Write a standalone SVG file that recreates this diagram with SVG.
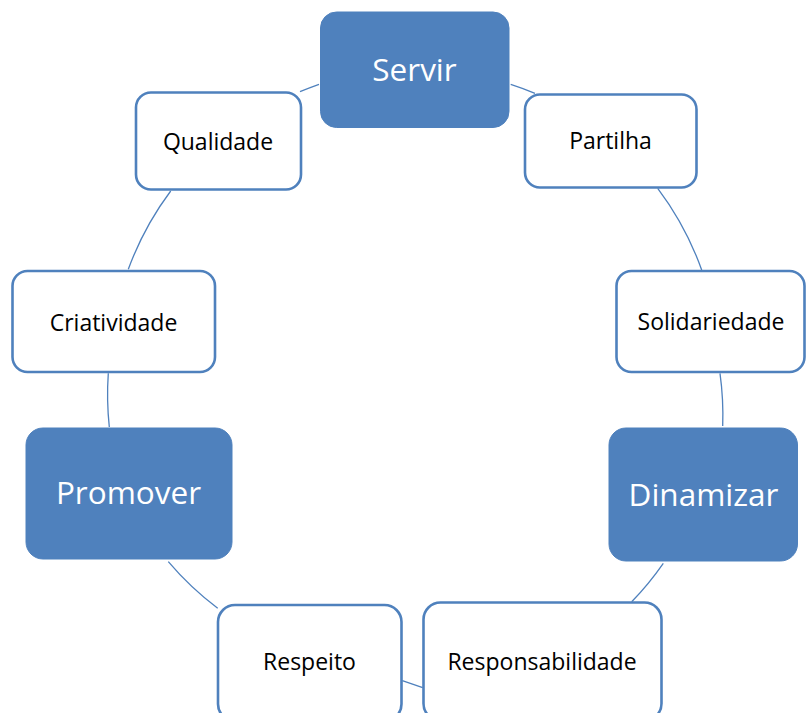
<svg xmlns="http://www.w3.org/2000/svg" width="806" height="713" viewBox="0 0 806 713">
<style>
.main rect{fill:#4f81bd;stroke:#4f81bd;stroke-width:1}
.sub rect{fill:#ffffff;stroke:#4f81bd;stroke-width:2.6}
.main text{font-family:"Open Sans","Noto Sans",sans-serif;font-size:31.5px;fill:#ffffff;text-anchor:middle}
.sub text{font-family:"Open Sans","Noto Sans",sans-serif;font-size:23px;fill:#000000;text-anchor:middle}
#connectors path{fill:none;stroke:#4f81bd;stroke-width:1.3}
</style>
<rect width="806" height="713" fill="#ffffff"/>
<g id="connectors">
<path d="M510.7,84.3 A306,306 0 0 1 535,93.3"/>
<path d="M657.7,188.3 A306,306 0 0 1 701.7,270"/>
<path d="M720,373.3 A306,306 0 0 1 722.7,426"/>
<path d="M663.3,563.3 A306,306 0 0 1 631.7,601.7"/>
<path d="M422.7,687.7 L402.3,680.7"/>
<path d="M217.7,608.3 A306,306 0 0 1 168.3,561.7"/>
<path d="M109.3,427 A306,306 0 0 1 108.3,373.3"/>
<path d="M128.3,269.3 A306,306 0 0 1 170.7,191"/>
<path d="M300,91.7 A306,306 0 0 1 319,84.3"/>
</g>
<g id="servir" class="main"><rect x="320.5" y="12" width="188.5" height="115.5" rx="16"/><text x="414.5" y="80.5">Servir</text></g>
<g id="partilha" class="sub"><rect x="525" y="94.5" width="171.5" height="93" rx="15"/><text x="610.5" y="149">Partilha</text></g>
<g id="solidariedade" class="sub"><rect x="616.5" y="271" width="188" height="101" rx="15"/><text x="711" y="330">Solidariedade</text></g>
<g id="dinamizar" class="main"><rect x="609" y="428" width="188.5" height="133" rx="17"/><text x="703.5" y="505.5">Dinamizar</text></g>
<g id="responsabilidade" class="sub"><rect x="423.5" y="602.5" width="238" height="118" rx="17"/><text x="542" y="669.5">Responsabilidade</text></g>
<g id="respeito" class="sub"><rect x="218" y="605" width="183.5" height="116" rx="17"/><text x="309.5" y="669.5">Respeito</text></g>
<g id="promover" class="main"><rect x="26" y="428" width="206" height="131" rx="17"/><text x="128.5" y="504">Promover</text></g>
<g id="criatividade" class="sub"><rect x="12.5" y="271" width="202.5" height="101" rx="15"/><text x="113.5" y="330.5">Criatividade</text></g>
<g id="qualidade" class="sub"><rect x="136" y="92.5" width="165" height="97" rx="15"/><text x="218" y="149.5">Qualidade</text></g>
</svg>
